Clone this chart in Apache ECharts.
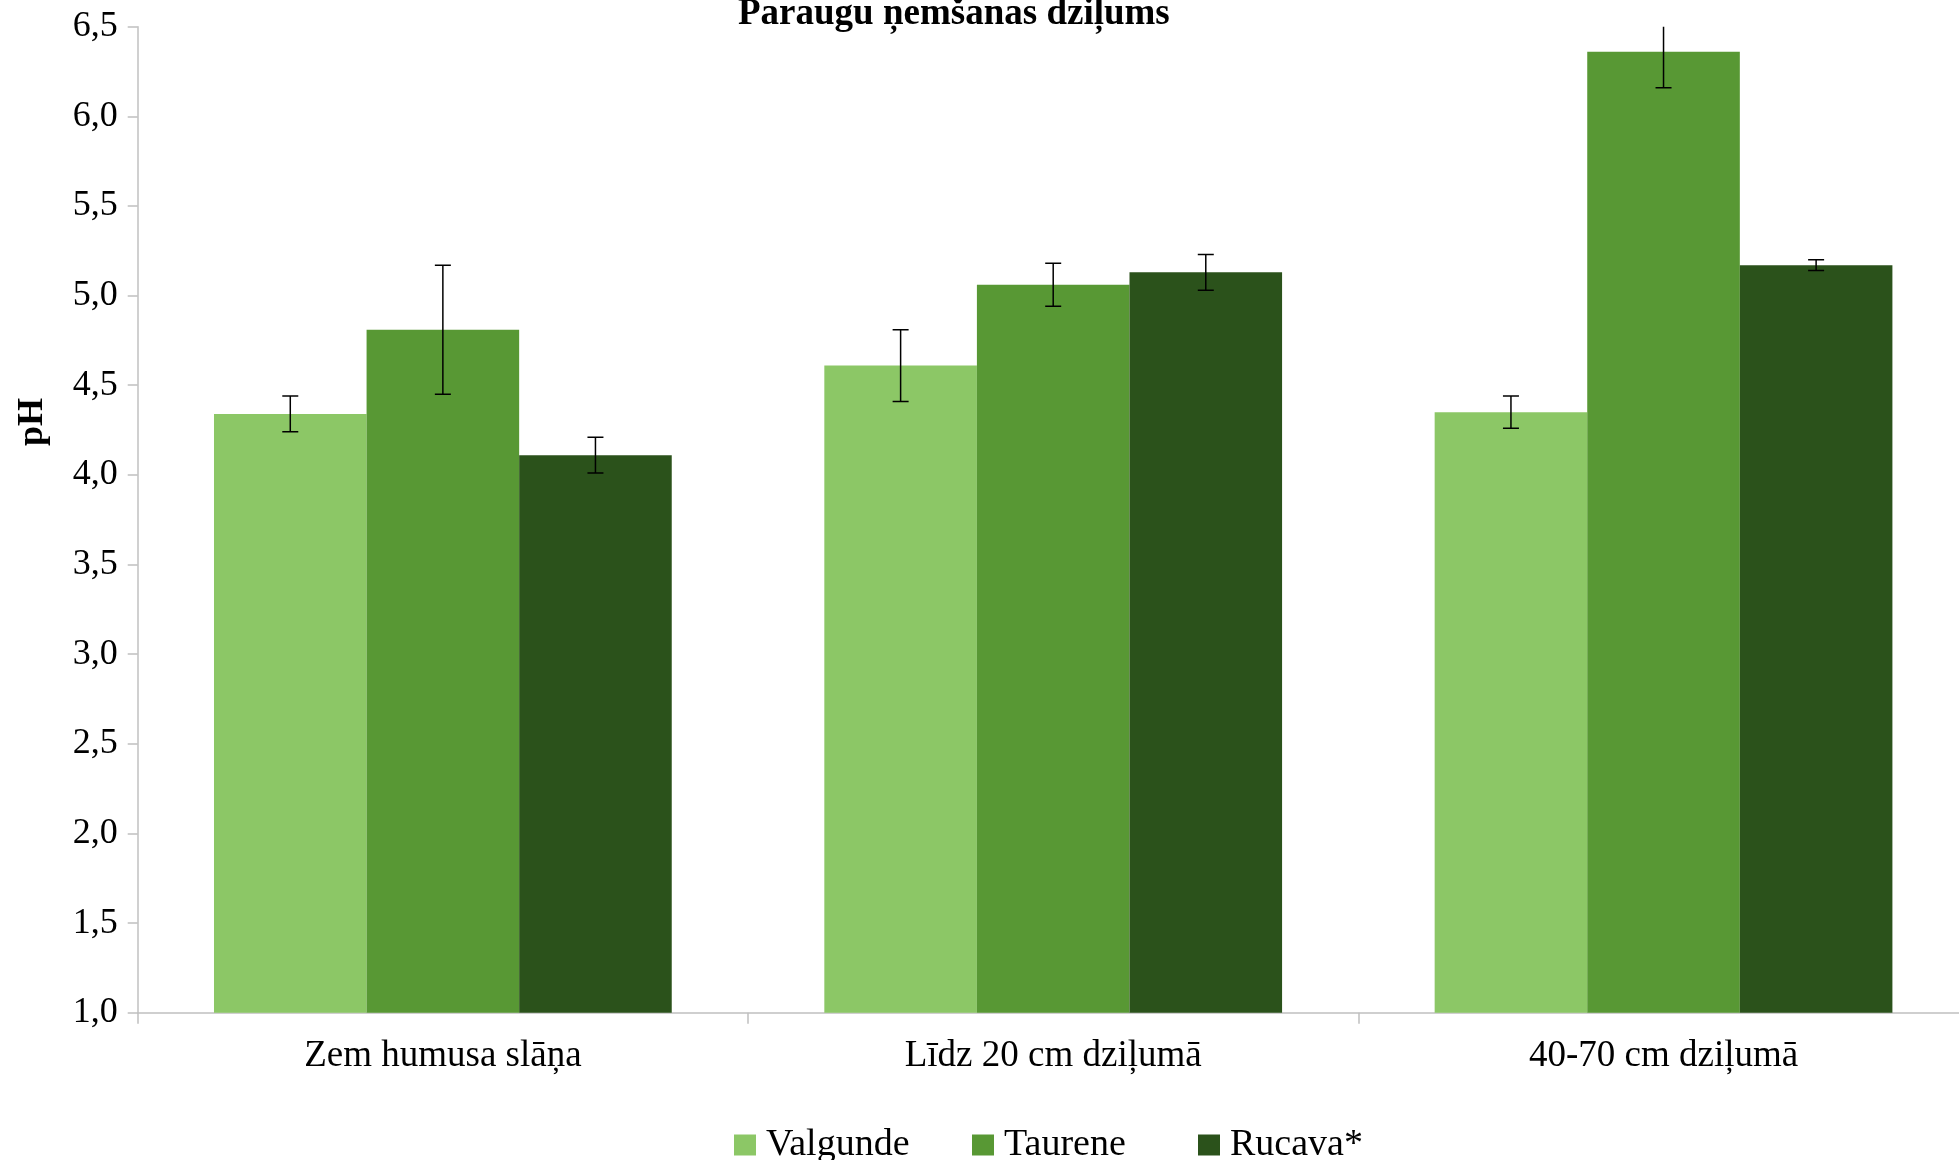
<!DOCTYPE html>
<html>
<head>
<meta charset="utf-8">
<script src="https://cdn.jsdelivr.net/npm/echarts@6/dist/echarts.min.js"></script>
<style>
html,body{margin:0;padding:0;background:#fff;overflow:hidden;width:1959px;height:1160px;}
#chart{width:1972px;height:1160px;}
</style>
</head>
<body>
<div id="chart"></div>
<script>
const categories = ['Zem humusa slāņa', 'Līdz 20 cm dziļumā', '40-70 cm dziļumā'];
const seriesNames = ['Valgunde', 'Taurene', 'Rucava*'];
const valgunde = [4.34, 4.61, 4.35];
const taurene = [4.81, 5.06, 6.36];
const rucava = [4.11, 5.13, 5.17];
const valgundeErr = [0.10, 0.20, 0.09];
const taureneErr = [0.36, 0.12, 0.20];
const rucavaErr = [0.10, 0.10, 0.03];
const colors = ['#8cc766', '#589834', '#2b521b'];
const titleText = 'Paraugu ņemšanas dziļums';
const yName = 'pH';

const FONT = '"Liberation Serif", "Times New Roman", serif';
const allVals = [valgunde, taurene, rucava];
const allErr = [valgundeErr, taureneErr, rucavaErr];
const GAP = 0.25;
const legendLefts = [729, 967, 1193];

function errSeries(idx) {
  const data = categories.map((c, i) => [i, allVals[idx][i], allErr[idx][i]]);
  return {
    type: 'custom',
    name: seriesNames[idx] + ' err',
    clip: true,
    silent: true,
    z: 10,
    data: data,
    encode: { x: 0, y: 1 },
    renderItem: function (params, api) {
      const ci = api.value(0);
      const v = api.value(1);
      const e = api.value(2);
      const band = api.size([1, 0])[0];
      const bw = band * (1 - GAP) / 3;
      const center = api.coord([ci, v]);
      const x = center[0] + (idx - 1) * bw;
      const yHi = api.coord([ci, v + e])[1];
      const yLo = api.coord([ci, v - e])[1];
      const hw = 8;
      const st = { stroke: '#000', lineWidth: 1.5 };
      return {
        type: 'group',
        children: [
          { type: 'line', shape: { x1: x, y1: yHi, x2: x, y2: yLo }, style: st },
          { type: 'line', shape: { x1: x - hw, y1: yHi, x2: x + hw, y2: yHi }, style: st },
          { type: 'line', shape: { x1: x - hw, y1: yLo, x2: x + hw, y2: yLo }, style: st }
        ]
      };
    }
  };
}

const chart = echarts.init(document.getElementById('chart'), null, { renderer: 'canvas' });
const option = {
  animation: false,
  backgroundColor: '#ffffff',
  title: {
    text: titleText,
    left: 733,
    top: -9,
    textStyle: { fontFamily: FONT, fontSize: 37, fontWeight: 'bold', color: '#000' }
  },
  legend: seriesNames.map((n, i) => ({
    data: [n],
    left: legendLefts[i],
    top: 1121,
    itemWidth: 22,
    itemHeight: 21,
    icon: 'rect',
    selectedMode: false,
    textStyle: { fontFamily: FONT, fontSize: 38, color: '#000', padding: [0, 0, 0, 5] }
  })),
  graphic: [{
    type: 'text',
    x: 33,
    y: 422,
    rotation: Math.PI / 2,
    style: {
      text: yName,
      fontFamily: FONT,
      fontSize: 36,
      fontWeight: 'bold',
      fill: '#000',
      textAlign: 'center',
      textVerticalAlign: 'middle'
    }
  }],
  grid: { left: 137.7, width: 1831, top: 26.7, bottom: 147.3, containLabel: false },
  xAxis: {
    type: 'category',
    data: categories,
    axisLine: { lineStyle: { color: '#c0c0c0', width: 1.5 } },
    axisTick: { show: true, length: 11, lineStyle: { color: '#c0c0c0', width: 1.5 } },
    axisLabel: { fontFamily: FONT, fontSize: 37, color: '#000', margin: 25 },
    splitLine: { show: false }
  },
  yAxis: {
    type: 'value',
    min: 1,
    max: 6.5,
    interval: 0.5,
    axisLine: { show: true, lineStyle: { color: '#c0c0c0', width: 1.5 } },
    axisTick: { show: true, length: 10, lineStyle: { color: '#c0c0c0', width: 1.5 } },
    axisLabel: {
      fontFamily: FONT, fontSize: 36, color: '#000', margin: 20,
      formatter: v => v.toFixed(1).replace('.', ',')
    },
    splitLine: { show: false }
  },
  series: [
    { name: seriesNames[0], type: 'bar', data: valgunde, barGap: '0%', barCategoryGap: '25%', itemStyle: { color: colors[0] } },
    { name: seriesNames[1], type: 'bar', data: taurene, barGap: '0%', barCategoryGap: '25%', itemStyle: { color: colors[1] } },
    { name: seriesNames[2], type: 'bar', data: rucava, barGap: '0%', barCategoryGap: '25%', itemStyle: { color: colors[2] } },
    errSeries(0), errSeries(1), errSeries(2)
  ]
};
chart.setOption(option);
</script>
</body>
</html>
